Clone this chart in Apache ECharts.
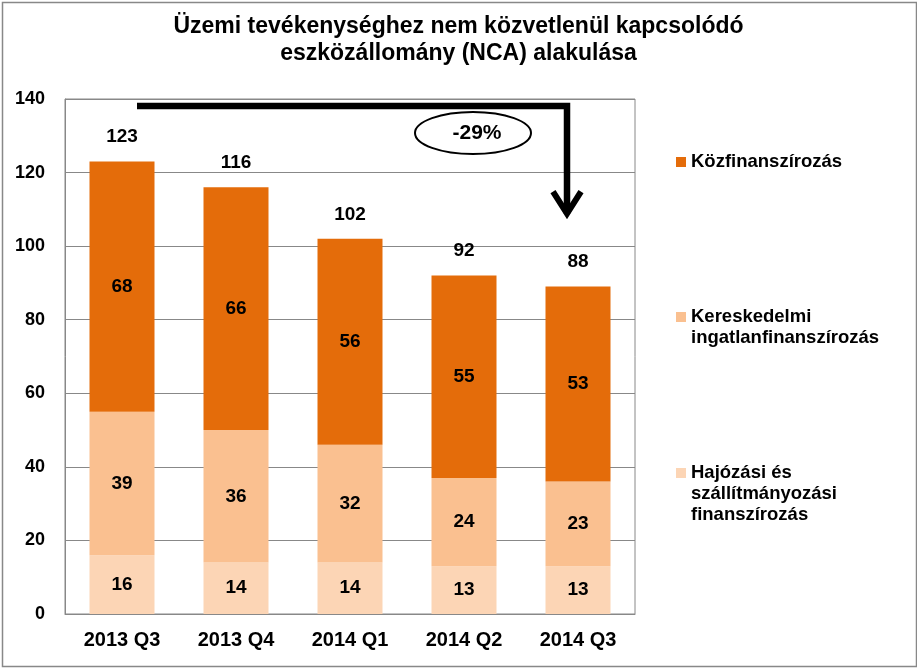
<!DOCTYPE html>
<html><head><meta charset="utf-8">
<script src="https://cdn.jsdelivr.net/npm/echarts@6/dist/echarts.min.js"></script>
<style>html,body{margin:0;padding:0;background:#fff}#c{width:917px;height:668px}</style>
</head><body><div id="c"></div>
<script>
const categories = ['2013 Q3', '2013 Q4', '2014 Q1', '2014 Q2', '2014 Q3'];
const hajozasi = [16, 14, 14, 13, 13];
const kereskedelmi = [39, 36, 32, 24, 23];
const kozfin = [68, 66, 56, 55, 53];
const totals = [123, 116, 102, 92, 88];
const yTicks = [0, 20, 40, 60, 80, 100, 120, 140];
const changeLabel = '-29%';

const names = ['Közfinanszírozás', 'Kereskedelmi\ningatlanfinanszírozás', 'Hajózási és\nszállítmányozási\nfinanszírozás'];
const colors = ['#E46C0A', '#FAC090', '#FCD5B5'];
const FONT = '"Liberation Sans", Arial, sans-serif';

const chart = echarts.init(document.getElementById('c'), null, {renderer: 'canvas'});
const segLabel = {show: true, position: 'inside', color: '#000', fontFamily: FONT, fontWeight: 'bold', fontSize: 19};

const LH = 21;
// icon aligned with the first text line: prepend blank lines so the block is centred on line 1
function legendFor(i, centerY) {
  const n = names[i].split('\n').length;
  const boxH = (2 * n - 1) * LH;
  return {
    data: [names[i]], orient: 'vertical', left: 676, top: centerY - boxH / 2,
    padding: 0, itemWidth: 10, itemHeight: 10, itemGap: 0, icon: 'rect',
    selectedMode: false,
    formatter: name => '\n'.repeat(n - 1) + name,
    textStyle: {fontFamily: FONT, fontWeight: 'bold', fontSize: 18.5, color: '#000', lineHeight: LH}
  };
}

const option = {
  animation: false,
  backgroundColor: '#fff',
  title: {
    text: 'Üzemi tevékenységhez nem közvetlenül kapcsolódó\neszközállomány (NCA) alakulása',
    left: 'center', top: 13, padding: 0,
    textStyle: {fontFamily: FONT, fontWeight: 'bold', fontSize: 23, lineHeight: 27, color: '#000'}
  },
  legend: [legendFor(0, 162), legendFor(1, 317), legendFor(2, 473)],
  grid: {left: 65, right: 282, top: 99, bottom: 54, show: true, borderColor: '#888', borderWidth: 1},
  xAxis: {
    type: 'category', data: categories,
    axisLine: {lineStyle: {color: '#888'}}, axisTick: {show: false},
    axisLabel: {color: '#000', fontFamily: FONT, fontWeight: 'bold', fontSize: 20, margin: 16}
  },
  yAxis: {
    type: 'value', min: 0, max: 140, interval: 20,
    axisLine: {show: true, lineStyle: {color: '#888'}}, axisTick: {show: false},
    splitLine: {lineStyle: {color: '#888', width: 1}},
    axisLabel: {color: '#000', fontFamily: FONT, fontWeight: 'bold', fontSize: 18, margin: 20,
      formatter: v => yTicks.includes(v) ? String(v) : ''}
  },
  series: [
    {name: names[2], type: 'bar', stack: 't', data: hajozasi, itemStyle: {color: colors[2]}, barWidth: 65, label: segLabel},
    {name: names[1], type: 'bar', stack: 't', data: kereskedelmi, itemStyle: {color: colors[1]}, barWidth: 65, label: segLabel},
    {name: names[0], type: 'bar', stack: 't', data: kozfin, itemStyle: {color: colors[0]}, barWidth: 65, label: segLabel},
    {name: 'total', type: 'bar', stack: 't', data: totals.map(() => 0), barWidth: 65, silent: true,
      itemStyle: {color: 'rgba(0,0,0,0)'},
      label: {show: true, position: 'top', distance: 15, color: '#000', fontFamily: FONT, fontWeight: 'bold', fontSize: 19,
        formatter: p => String(totals[p.dataIndex])}}
  ]
};
chart.setOption(option);

// annotation arrow & ellipse, placed relative to the axes
const p0 = chart.convertToPixel({gridIndex: 0}, [0, 140]);
const p4 = chart.convertToPixel({gridIndex: 0}, [4, 108]);
const yTop = p0[1] + 7;
const x0 = p0[0] + 15, x1 = p4[0] - 11, yTip = p4[1];
chart.setOption({
  graphic: [
    {type: 'rect', left: 0, top: 0, shape: {x: 1, y: 1, width: 914, height: 664}, style: {fill: 'none', stroke: '#888', lineWidth: 1.5}, z: 100},
    {type: 'polyline', shape: {points: [[x0, yTop], [x1, yTop], [x1, yTip - 3]]}, style: {stroke: '#000', lineWidth: 6.5, fill: 'none'}, z: 100},
    {type: 'polyline', shape: {points: [[x1 - 14, yTip - 25], [x1, yTip - 3], [x1 + 14, yTip - 25]]}, style: {stroke: '#000', lineWidth: 6, fill: 'none', lineJoin: 'miter'}, z: 100},
    {type: 'ellipse', shape: {cx: (x0 + x1) / 2 + 121, cy: yTop + 27, rx: 58, ry: 21}, style: {fill: '#fff', stroke: '#000', lineWidth: 2}, z: 100},
    {type: 'text', x: (x0 + x1) / 2 + 125, y: yTop + 27, style: {text: changeLabel, fontFamily: FONT, fontWeight: 'bold', fontSize: 21, fill: '#000', align: 'center', verticalAlign: 'middle'}, z: 101}
  ]
});
</script></body></html>
